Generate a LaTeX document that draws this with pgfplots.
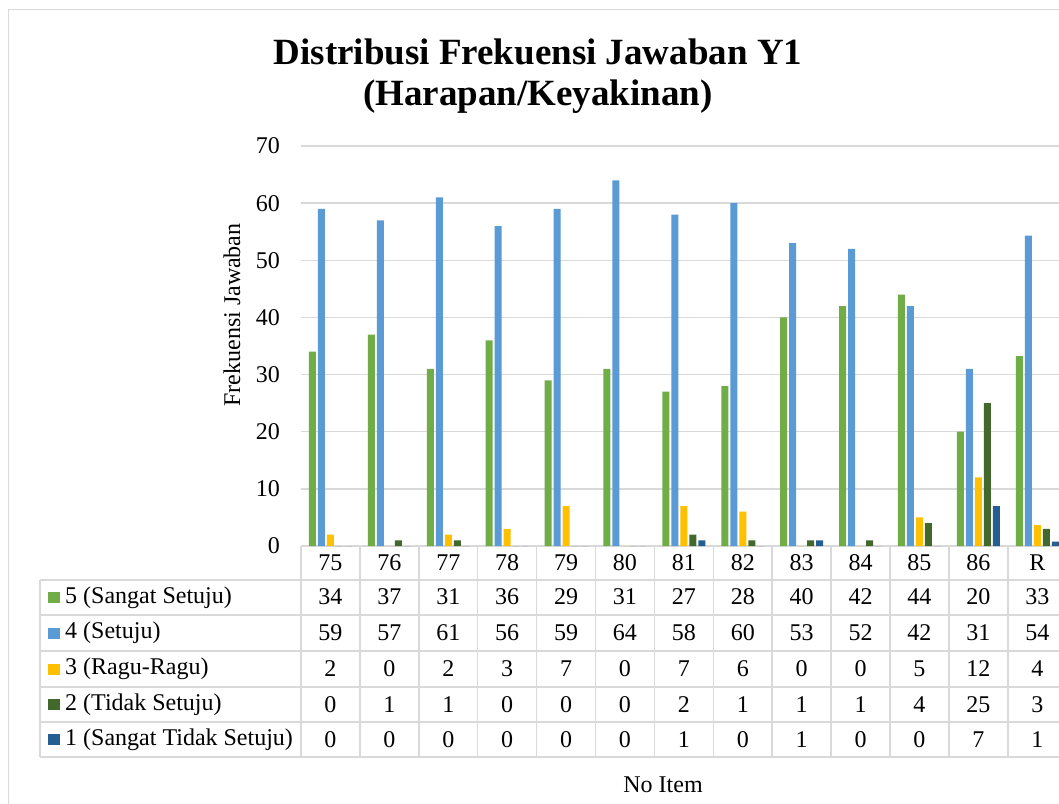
\documentclass[border=0pt]{standalone}
\usepackage{pgfplots}
\pgfplotsset{compat=1.18}
\usepackage{pgfplotstable}
\usepackage{fontspec}
\setmainfont{Liberation Serif}
\definecolor{cS5}{HTML}{70AD47}
\definecolor{cS4}{HTML}{5B9BD5}
\definecolor{cS3}{HTML}{FFC000}
\definecolor{cS2}{HTML}{43682B}
\definecolor{cS1}{HTML}{255E91}
\definecolor{gridc}{HTML}{D9D9D9}
\pgfplotstableread{
x cat s5 s4 s3 s2 s1
0 75 34 59 2 0 0
1 76 37 57 0 1 0
2 77 31 61 2 1 0
3 78 36 56 3 0 0
4 79 29 59 7 0 0
5 80 31 64 0 0 0
6 81 27 58 7 2 1
7 82 28 60 6 1 0
8 83 40 53 0 1 1
9 84 42 52 0 1 0
10 85 44 42 5 4 0
11 86 20 31 12 25 7
12 R 33.25 54.33 3.67 3 0.75
}\data
\newcommand{\tf}{\fontsize{24}{28}\selectfont}
\begin{document}
\tf
\begin{tikzpicture}
\useasboundingbox (0,0) rectangle (1059pt,-803pt);
\clip (0,0) rectangle (1059pt,-803pt);
\fill[white] (0,0) rectangle (1059pt,-803pt);
% outer border
\draw[gridc, line width=1.5pt] (8.5pt,-1000pt) -- (8.5pt,-9.5pt) -- (1200pt,-9.5pt);
% titles
\node[font=\fontsize{37}{42}\selectfont\bfseries, anchor=base] at (538pt,-64.5pt) {Distribusi Frekuensi Jawaban Y1};
\node[font=\fontsize{37}{42}\selectfont\bfseries, anchor=base] at (538pt,-105pt) {(Harapan/Keyakinan)};
\node[font=\tf, rotate=90] at (232pt,-315pt) {Frekuensi Jawaban};
\node[font=\tf] at (663pt,-785pt) {No Item};
% table grid
\begin{scope}[gridc, line width=1.5pt]
\draw (301pt,-546pt) -- (1200pt,-546pt);
\foreach \yy in {580,615,651,687,722,757} \draw (40pt,-\yy pt) -- (1200pt,-\yy pt);
\draw (40pt,-580pt) -- (40pt,-757pt);
\foreach \k in {0,...,13} \draw ({(301+58.9*\k)*1pt},-546pt) -- ({(301+58.9*\k)*1pt},-757pt);
\end{scope}
% legend keys
\foreach \yy/\cc/\tt in {597.5/cS5/5 (Sangat Setuju), 633/cS4/4 (Setuju), 669/cS3/3 (Ragu-Ragu), 704.5/cS2/2 (Tidak Setuju), 739.5/cS1/1 (Sangat Tidak Setuju)} {
  \fill[\cc] (48pt,{(-\yy+5.5)*1pt}) rectangle (59.5pt,{(-\yy-5.5)*1pt});
  \node[font=\tf, anchor=west, inner sep=0pt] at (65pt,{-\yy*1pt}) {\tt};
}
\begin{axis}[
  at={(301pt,-546pt)}, anchor=south west,
  scale only axis, width=765.7pt, height=400pt,
  xmin=-0.5, xmax=12.5, ymin=0, ymax=70,
  clip=false,
  axis line style={draw=none},
  xtick=\empty,
  ytick={0,10,...,70},
  major tick length=0pt,
  ymajorgrids, grid style={gridc, line width=1.5pt},
  yticklabel style={font=\tf, inner sep=0pt, xshift=-21pt, anchor=east},
  /pgf/number format/assume math mode=true,
  every node near coord/.append style={font=\tf, anchor=center, inner sep=0pt, yshift=0pt},
]
\addplot[ybar, bar width=7pt, bar shift=-18pt, fill=cS5, draw=none] table[x=x, y=s5] {\data};
\addplot[ybar, bar width=7pt, bar shift=-9pt, fill=cS4, draw=none] table[x=x, y=s4] {\data};
\addplot[ybar, bar width=7pt, bar shift=0pt, fill=cS3, draw=none] table[x=x, y=s3] {\data};
\addplot[ybar, bar width=7pt, bar shift=9pt, fill=cS2, draw=none] table[x=x, y=s2] {\data};
\addplot[ybar, bar width=7pt, bar shift=18pt, fill=cS1, draw=none] table[x=x, y=s1] {\data};
% data table text
\addplot[draw=none, mark=none, point meta=explicit symbolic, nodes near coords={\pgfplotspointmeta}] table[x=x, y expr=-2.975, meta=cat] {\data};
\addplot[draw=none, mark=none, point meta=explicit, nodes near coords={\pgfmathprintnumber[fixed,precision=0]{\pgfplotspointmeta}}] table[x=x, y expr=-8.9, meta=s5] {\data};
\addplot[draw=none, mark=none, point meta=explicit, nodes near coords={\pgfmathprintnumber[fixed,precision=0]{\pgfplotspointmeta}}] table[x=x, y expr=-15.1, meta=s4] {\data};
\addplot[draw=none, mark=none, point meta=explicit, nodes near coords={\pgfmathprintnumber[fixed,precision=0]{\pgfplotspointmeta}}] table[x=x, y expr=-21.4, meta=s3] {\data};
\addplot[draw=none, mark=none, point meta=explicit, nodes near coords={\pgfmathprintnumber[fixed,precision=0]{\pgfplotspointmeta}}] table[x=x, y expr=-27.7, meta=s2] {\data};
\addplot[draw=none, mark=none, point meta=explicit, nodes near coords={\pgfmathprintnumber[fixed,precision=0]{\pgfplotspointmeta}}] table[x=x, y expr=-33.8, meta=s1] {\data};
\end{axis}
\end{tikzpicture}
\end{document}
